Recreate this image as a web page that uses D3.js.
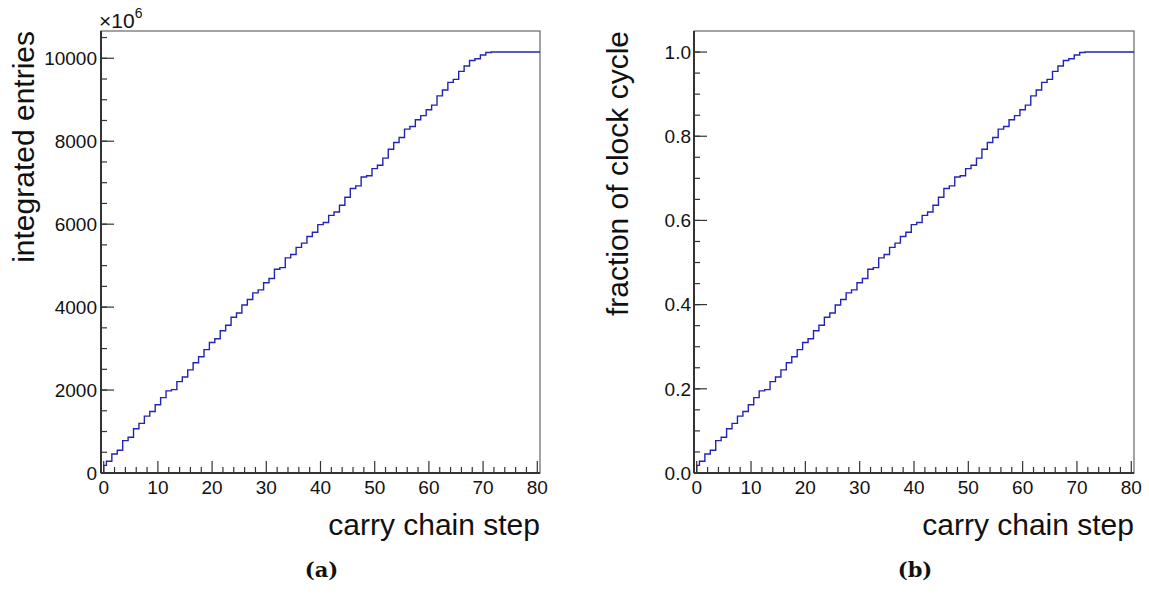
<!DOCTYPE html>
<html>
<head>
<meta charset="utf-8">
<script src="https://cdn.jsdelivr.net/npm/d3@7"></script>
<style>
  body { margin: 0; background: #fff; }
  svg { display: block; font-family: "Liberation Sans", Arial, sans-serif; }
</style>
</head>
<body>
<svg id="chart" width="1149" height="595"></svg>
<script>
// cumulative fraction of entries per carry chain step (bin i = step i)
const steps = d3.range(0, 81);
const fraction = [
  0.018, 0.028, 0.045, 0.054, 0.077, 0.085, 0.105, 0.118, 0.135, 0.146,
  0.162, 0.179, 0.195, 0.198, 0.217, 0.228, 0.245, 0.262, 0.276, 0.293,
  0.310, 0.319, 0.338, 0.351, 0.370, 0.380, 0.399, 0.412, 0.428, 0.435,
  0.452, 0.462, 0.484, 0.488, 0.511, 0.519, 0.536, 0.546, 0.562, 0.572,
  0.590, 0.595, 0.612, 0.620, 0.636, 0.655, 0.676, 0.682, 0.703, 0.706,
  0.723, 0.731, 0.748, 0.769, 0.785, 0.797, 0.817, 0.823, 0.839, 0.849,
  0.863, 0.874, 0.896, 0.910, 0.928, 0.935, 0.954, 0.967, 0.980, 0.984,
  0.993, 0.999, 1.000, 1.000, 1.000, 1.000, 1.000, 1.000, 1.000, 1.000,
  1.000
];
const totalEntries = 10150; // x10^6

const xTicks = [0, 10, 20, 30, 40, 50, 60, 70, 80];
const leftYTicks = [0, 2000, 4000, 6000, 8000, 10000];
const rightYTicks = [0, 0.2, 0.4, 0.6, 0.8, 1.0];

const svg = d3.select("#chart");

const panels = [
  {
    left: 101, right: 540, top: 31, bottom: 473,
    values: fraction.map(f => f * totalEntries),
    ymax: totalEntries * 1.05,
    yTicks: leftYTicks, yMinor: 500, fmt: d3.format("d"),
    ytitle: "integrated entries", ytitleX: 34,
    labelGap: 4, caption: "(a)", exponent: true
  },
  {
    left: 694, right: 1134, top: 31, bottom: 473,
    values: fraction,
    ymax: 1.05,
    yTicks: rightYTicks, yMinor: 0.05, fmt: d3.format(".1f"),
    ytitle: "fraction of clock cycle", ytitleX: 628,
    labelGap: 3, caption: "(b)", exponent: false
  }
];

panels.forEach(function(p) {
  const x = d3.scaleLinear().domain([-0.5, 80.5]).range([p.left, p.right]);
  const y = d3.scaleLinear().domain([0, p.ymax]).range([p.bottom, p.top]);
  const g = svg.append("g");

  // frame
  g.append("rect")
    .attr("x", p.left).attr("y", p.top)
    .attr("width", p.right - p.left).attr("height", p.bottom - p.top)
    .attr("fill", "none").attr("stroke", "#666").attr("stroke-width", 1.2);

  // step curve
  const pts = [{e: 0, v: 0}];
  steps.forEach(function(s, i) {
    pts.push({e: i === 0 ? 0 : s - 0.5, v: p.values[i]});
  });
  pts.push({e: 80.5, v: p.values[p.values.length - 1]});

  const line = d3.line()
    .x(d => x(d.e))
    .y(d => y(d.v))
    .curve(d3.curveStepAfter);

  g.append("path")
    .datum(pts)
    .attr("d", line)
    .attr("fill", "none")
    .attr("stroke", "#2424b4")
    .attr("stroke-width", 1.4);

  // x ticks (inward, upward)
  const xMinor = d3.range(0, 81, 2).filter(v => v % 10 !== 0);
  g.selectAll(".xminor").data(xMinor).enter().append("line")
    .attr("x1", d => x(d)).attr("x2", d => x(d))
    .attr("y1", p.bottom).attr("y2", p.bottom - 6)
    .attr("stroke", "#333").attr("stroke-width", 1.2);
  g.selectAll(".xmajor").data(xTicks).enter().append("line")
    .attr("x1", d => x(d)).attr("x2", d => x(d))
    .attr("y1", p.bottom).attr("y2", p.bottom - 12)
    .attr("stroke", "#333").attr("stroke-width", 1.2);
  g.selectAll(".xlab").data(xTicks).enter().append("text")
    .attr("x", d => x(d)).attr("y", p.bottom + 21)
    .attr("text-anchor", "middle")
    .style("font-size", "19px")
    .attr("fill", "#111")
    .text(d => d);

  // y ticks (inward, rightward)
  const yMinorVals = d3.range(0, p.ymax, p.yMinor);
  g.selectAll(".yminor").data(yMinorVals).enter().append("line")
    .attr("x1", p.left).attr("x2", p.left + 6)
    .attr("y1", d => y(d)).attr("y2", d => y(d))
    .attr("stroke", "#333").attr("stroke-width", 1.2);
  g.selectAll(".ymajor").data(p.yTicks).enter().append("line")
    .attr("x1", p.left).attr("x2", p.left + 13)
    .attr("y1", d => y(d)).attr("y2", d => y(d))
    .attr("stroke", "#333").attr("stroke-width", 1.2);
  g.selectAll(".ylab").data(p.yTicks).enter().append("text")
    .attr("x", p.left - p.labelGap).attr("y", d => y(d))
    .attr("dy", "0.36em")
    .attr("text-anchor", "end")
    .style("font-size", "19px")
    .attr("fill", "#111")
    .text(d => p.fmt(d));

  // axis lines, heavier than the frame
  g.append("line")
    .attr("x1", p.left).attr("x2", p.left)
    .attr("y1", p.top).attr("y2", p.bottom)
    .attr("stroke", "#333").attr("stroke-width", 2);
  g.append("line")
    .attr("x1", p.left).attr("x2", p.right)
    .attr("y1", p.bottom).attr("y2", p.bottom)
    .attr("stroke", "#333").attr("stroke-width", 2);

  // axis titles
  g.append("text")
    .attr("x", p.right).attr("y", 535)
    .attr("text-anchor", "end")
    .style("font-size", "30px")
    .attr("fill", "#111")
    .text("carry chain step");

  g.append("text")
    .attr("transform", `translate(${p.ytitleX},${p.top}) rotate(-90)`)
    .attr("text-anchor", "end")
    .style("font-size", "30px")
    .attr("fill", "#111")
    .text(p.ytitle);

  if (p.exponent) {
    const t = g.append("text")
      .attr("x", p.left - 2).attr("y", 28)
      .style("font-size", "21px")
      .attr("fill", "#111");
    t.append("tspan").text("\u00d710");
    t.append("tspan").style("font-size", "14px").attr("dy", -10).text("6");
  }

  // caption
  svg.append("text")
    .attr("x", (p.left + p.right) / 2 + 1).attr("y", 577)
    .attr("text-anchor", "middle")
    .style("font-family", "'DejaVu Serif', serif")
    .attr("font-weight", "bold")
    .style("font-size", "21px")
    .attr("fill", "#111")
    .text(p.caption);
});
</script>
</body>
</html>
